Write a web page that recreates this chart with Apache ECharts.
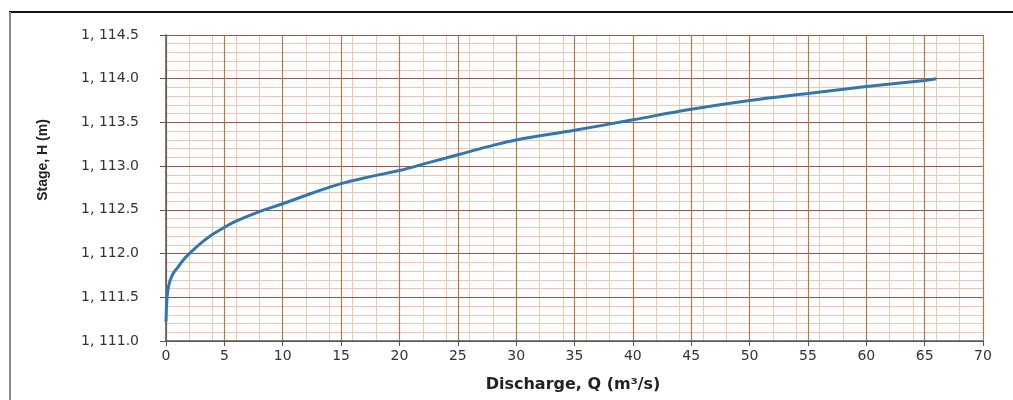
<!DOCTYPE html>
<html>
<head>
<meta charset="utf-8">
<script src="https://cdn.jsdelivr.net/npm/echarts@6/dist/echarts.min.js"></script>
<style>html,body{margin:0;padding:0;background:#fff;}#c{width:1013px;height:400px;}</style>
</head>
<body>
<div id="c"></div>
<script>
var discharge = [0.0, 0.03, 0.08, 0.15, 0.3, 0.6, 1, 1.5, 2, 3, 4, 5, 6, 8, 10, 12.5, 15, 17.5, 20, 22.5, 25, 27.5, 30, 35, 40, 45, 50, 55, 60, 65, 66];
var stage = [1111.22, 1111.35, 1111.48, 1111.57, 1111.67, 1111.77, 1111.84, 1111.93, 1112.0, 1112.12, 1112.22, 1112.3, 1112.37, 1112.48, 1112.57, 1112.69, 1112.8, 1112.88, 1112.95, 1113.04, 1113.13, 1113.22, 1113.3, 1113.41, 1113.53, 1113.65, 1113.75, 1113.83, 1113.91, 1113.98, 1114.0];
var xTickValues = [0, 5, 10, 15, 20, 25, 30, 35, 40, 45, 50, 55, 60, 65, 70];
var yTickValues = [1111.0, 1111.5, 1112.0, 1112.5, 1113.0, 1113.5, 1114.0, 1114.5];

var pts = discharge.map(function (q, i) { return [q, stage[i]]; });
var chart = echarts.init(document.getElementById('c'), null, {renderer: 'canvas'});
var font = 'DejaVu Sans, Verdana, sans-serif';
chart.setOption({
  animation: false,
  backgroundColor: '#ffffff',
  grid: {left: 166, right: 30, top: 35, bottom: 59, containLabel: false, show: false},
  xAxis: [{
    type: 'value', min: 0, max: 70, interval: 5, z: 3,
    axisLine: {show: true, lineStyle: {color: '#555', width: 1.5}},
    axisTick: {show: true, inside: false, length: 5, lineStyle: {color: '#555'}},
    axisLabel: {color: '#333', fontSize: 14, fontFamily: font, margin: 8},
    splitLine: {show: true, lineStyle: {color: '#b27a45', width: 1.2}}
  }, {
    type: 'value', min: 0, max: 70, interval: 2, z: 1, position: 'bottom',
    axisLine: {show: false}, axisTick: {show: false}, axisLabel: {show: false},
    splitLine: {show: true, lineStyle: {color: '#f2c7a4', width: 1}}
  }],
  yAxis: [{
    type: 'value', min: 1111, max: 1114.5, interval: 0.5, z: 3,
    axisLine: {show: true, lineStyle: {color: '#555', width: 1.5}},
    axisTick: {show: true, inside: false, length: 6, lineStyle: {color: '#555'}},
    axisLabel: {color: '#333', fontSize: 14, fontFamily: font, margin: 27,
      formatter: function (v) { return '1, ' + (v - 1000).toFixed(1); }},
    splitLine: {show: true, lineStyle: {color: '#a8524a', width: 1.2}},
    minorTick: {show: false, splitNumber: 5},
    minorSplitLine: {show: true, lineStyle: {color: '#f4c3b2', width: 1}}
  }],
  series: [{
    type: 'line', xAxisIndex: 0, yAxisIndex: 0, data: pts, smooth: 0.4,
    showSymbol: false, symbol: 'none', z: 5,
    lineStyle: {color: '#2a79b6', width: 3}
  }],
  graphic: [
    {type: 'line', shape: {x1: 9, y1: 12, x2: 1013, y2: 12}, style: {stroke: '#111', lineWidth: 2}},
    {type: 'line', shape: {x1: 10, y1: 12, x2: 10, y2: 400}, style: {stroke: '#888', lineWidth: 2}},
    {type: 'text', x: 43, y: 160, rotation: Math.PI / 2,
      style: {text: 'Stage, H (m)', font: 'bold 14px Liberation Sans, Arial, sans-serif', fill: '#222', align: 'center', verticalAlign: 'middle'}},
    {type: 'text', x: 573, y: 385,
      style: {text: 'Discharge, Q (m³/s)', font: 'bold 16px ' + font, fill: '#222', align: 'center', verticalAlign: 'middle'}}
  ]
});
</script>
</body>
</html>
